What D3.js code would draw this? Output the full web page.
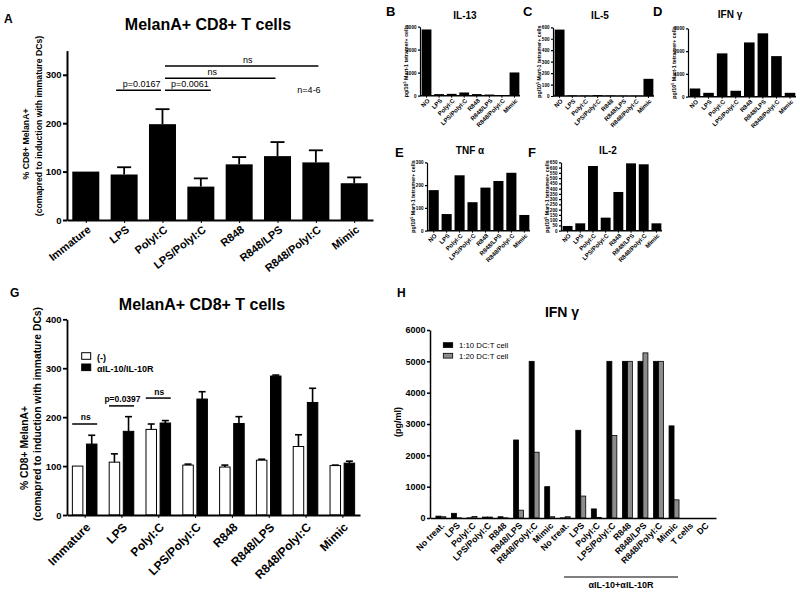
<!DOCTYPE html>
<html><head><meta charset="utf-8">
<script src="https://cdn.jsdelivr.net/npm/d3@7"></script>
<style>body{margin:0;background:#fff}svg{display:block}</style>
</head><body><svg id="c" width="800" height="594"></svg>
<script>
// ---------------- DATA ----------------
const aCats = ["Immature","LPS","PolyI:C","LPS/PolyI:C","R848","R848/LPS","R848/PolyI:C","Mimic"];
const aMean = [100,94,198,69,115,132,119,76];
const aErr  = [0,15,31,17,15,29,25,12];
const aTicks = [0,100,200,300];
const aSigFrom = ["LPS","PolyI:C","PolyI:C","PolyI:C"];
const aSigTo   = ["PolyI:C","LPS/PolyI:C","R848/LPS","R848/PolyI:C"];
const aSigVal  = [268,268,293,318];
const aSigText = ["p=0.0167","p=0.0061","ns","ns"];

const smallCats = ["NO","LPS","PolyI:C","LPS/PolyI:C","R848","R848/LPS","R848/PolyI:C","Mimic"];
const il13 = [2880,70,80,140,70,50,30,1010];
const il5  = [580,5,3,8,4,2,2,150];
const ifng = [360,170,1900,260,2380,2780,1780,170];
const tnfa = [178,73,243,125,189,218,254,69];
const il2  = [45,70,615,124,368,640,631,70];
const il13Ticks = [0,1000,2000,3000];
const il5Ticks  = [0,100,200,300,400,500,600];
const ifngTicks = [0,1000,2000,3000];
const tnfaTicks = [0,100,200,300];
const il2Ticks  = [0,50,100,150,200,250,300,350,400,450,500,550,600,650];

const gCats = aCats;
const gNone    = [100,108,175,102,98,112,140,101];
const gNoneErr = [0,17,11,2,4,2,24,1];
const gAnti    = [145,171,188,237,187,284,230,106];
const gAntiErr = [18,30,5,15,14,2,29,4];
const gTicks = [0,100,200,300,400];
const gSigCat  = ["Immature","LPS","PolyI:C"];
const gSigVal  = [186,223,239];
const gSigText = ["ns","p=0.0397","ns"];
const gLegend = ["(-)","\u03B1IL-10/IL-10R"];

const hCats = ["No treat.","LPS","PolyI:C","LPS/PolyI:C","R848","R848/LPS","R848/PolyI:C","Mimic",
               "No treat.","LPS","PolyI:C","LPS/PolyI:C","R848","R848/LPS","R848/PolyI:C","Mimic","T cells","DC"];
const h10 = [60,150,5,30,40,2490,5000,1000,5,2800,290,5000,5000,5000,5000,2940,0,0];
const h20 = [40,5,50,30,5,250,2100,40,40,700,20,2630,5000,5270,5000,580,0,0];
const hTicks = [0,1000,2000,3000,4000,5000,6000];
const hLegend = ["1:10 DC:T cell","1:20 DC:T cell"];

// ---------------- DRAWING ----------------
const FONT = '"Liberation Sans", Arial, Helvetica, sans-serif';
const svg = d3.select("#c");

function text(x,y,s,fs,opt={}){
  const t = svg.append("text").attr("x",x).attr("y",y).text(s)
    .attr("font-family",FONT).attr("font-size",fs)
    .attr("font-weight",opt.weight||"bold").attr("fill","#000")
    .attr("text-anchor",opt.anchor||"start");
  if(opt.rotate!==undefined) t.attr("transform",`rotate(${opt.rotate},${x},${y})`);
  return t;
}
function yAxis(y,x0,ticks,fs,tsize,sw){
  const g = svg.append("g").attr("transform",`translate(${x0},0)`)
    .call(d3.axisLeft(y).tickValues(ticks).tickSize(tsize).tickSizeOuter(0).tickPadding(1.5).tickFormat(d3.format("d")));
  g.select(".domain").attr("stroke","#000").attr("stroke-width",sw);
  g.selectAll(".tick line").attr("stroke","#000").attr("stroke-width",sw);
  g.selectAll(".tick text").attr("font-family",FONT).attr("font-size",fs).attr("font-weight","bold").attr("fill","#000");
  return g;
}
function xAxis(x,y0,fmt,fs,tsize,sw,dx,dy,rot){
  const g = svg.append("g").attr("transform",`translate(0,${y0})`)
    .call(d3.axisBottom(x).tickSize(tsize).tickSizeOuter(0).tickFormat(fmt));
  g.select(".domain").attr("stroke","#000").attr("stroke-width",sw);
  g.selectAll(".tick line").attr("stroke","#000").attr("stroke-width",Math.min(sw,1));
  g.selectAll(".tick text").attr("font-family",FONT).attr("font-size",fs).attr("font-weight","bold").attr("fill","#000")
    .attr("x",0).attr("y",0).attr("dy","0.35em").attr("text-anchor","end")
    .attr("transform",`translate(${dx},${dy}) rotate(${rot})`);
  return g;
}

// ===== Panel A =====
{
  const y = d3.scaleLinear().domain([0,350]).range([220,50.6]);
  const x = d3.scalePoint().domain(aCats).range([67,373]).padding(0.49);
  const bw = 27;
  svg.append("g").selectAll("rect").data(aCats).join("rect")
    .attr("x",c=>x(c)-bw/2).attr("width",bw)
    .attr("y",(c,i)=>y(aMean[i])).attr("height",(c,i)=>220-y(aMean[i])).attr("fill","#000");
  const eg = svg.append("g").attr("stroke","#000").attr("stroke-width",1.8);
  aCats.forEach((c,i)=>{ if(!aErr[i]) return;
    eg.append("line").attr("x1",x(c)).attr("x2",x(c)).attr("y1",y(aMean[i])).attr("y2",y(aMean[i]+aErr[i]));
    eg.append("line").attr("x1",x(c)-7).attr("x2",x(c)+7).attr("y1",y(aMean[i]+aErr[i])).attr("y2",y(aMean[i]+aErr[i]));
  });
  yAxis(y,67,aTicks,9.5,4,2);
  xAxis(x,220,d=>d,11,3,2,3,8,-38);
  const sdx=[[-8,-1.5],[2.5,10],[2.5,-2],[2.5,2.5]], tdx=[3,2,-8,6];
  aSigText.forEach((s,i)=>{
    const x1=x(aSigFrom[i])+sdx[i][0], x2=x(aSigTo[i])+sdx[i][1], yy=y(aSigVal[i]);
    svg.append("line").attr("x1",x1).attr("x2",x2).attr("y1",yy).attr("y2",yy).attr("stroke","#000").attr("stroke-width",1.5);
    text((x1+x2)/2+tdx[i],yy-3,s,9,{weight:"normal",anchor:"middle"});
  });
  text(309,93,"n=4-6",9,{weight:"normal",anchor:"middle"});
  text(208,30,"MelanA+ CD8+ T cells",16,{anchor:"middle"});
  text(4,23,"A",12);
  text(29,144,"% CD8+ MelanA+",8.7,{anchor:"middle",rotate:-90});
  text(41.5,126,"(comapred to induction with immature DCs)",8.7,{anchor:"middle",rotate:-90});
}

// ===== Small panels B-F =====
function small(vals,ticks,max,x0,x1,y0,yTop,title,tx,ty,letter,lx,ly){
  const y = d3.scaleLinear().domain([0,max]).range([y0,yTop]);
  const x = d3.scaleBand().domain(smallCats).range([x0+1,x1]).paddingInner(0.22).paddingOuter(0.05);
  svg.append("g").selectAll("rect").data(smallCats).join("rect")
    .attr("x",c=>x(c)).attr("width",x.bandwidth())
    .attr("y",(c,i)=>y(vals[i])).attr("height",(c,i)=>y0-y(vals[i])).attr("fill","#000");
  yAxis(y,x0,ticks,4.6,2,1.2);
  const xa = svg.append("g").attr("transform",`translate(0,${y0})`)
    .call(d3.axisBottom(x).tickSize(2).tickSizeOuter(0));
  xa.select(".domain").attr("stroke","#000").attr("stroke-width",1.5).attr("d",`M${x0},0H${x1}`);
  xa.selectAll(".tick line").attr("stroke","#000");
  xa.selectAll(".tick text").attr("font-family",FONT).attr("font-size",6.1).attr("font-weight","bold").attr("fill","#000")
    .attr("x",0).attr("y",0).attr("dy","0.35em").attr("text-anchor","end")
    .attr("transform","translate(2,4) rotate(-45)");
  text(tx,ty,title,10,{anchor:"middle"});
  text(lx,ly,letter,13);
  const yl = text(x0-12,(y0+yTop)/2,"",5.3,{anchor:"middle",rotate:-90});
  yl.append("tspan").text("pg/10");
  yl.append("tspan").text("5").attr("font-size",3.7).attr("dy",-2);
  yl.append("tspan").text(" Mart-1 tetramer+ cells").attr("dy",2);
}
small(il13,il13Ticks,3000,420,520,95.7,26.7,"IL-13",465,18.5,"B",386,15.5);
small(il5,il5Ticks,600,553,654,96,27.3,"IL-5",600,18.5,"C",523,15.5);
small(ifng,ifngTicks,3000,688,796,96.7,28.3,"IFN \u03B3",730,18,"D",653,15.5);
small(tnfa,tnfaTicks,300,427,530,230.7,162.3,"TNF \u03B1",470,154,"E",395,156.7);
small(il2,il2Ticks,650,561,662,230.7,162.3,"IL-2",608,154,"F",528,156.7);

// ===== Panel G =====
{
  const y = d3.scaleLinear().domain([0,400]).range([515,319.3]);
  const x = d3.scalePoint().domain(gCats).range([67,360]).padding(0.48);
  const bw = 10.5, gap = 1.8;
  const bars = svg.append("g").attr("stroke","#000").attr("stroke-width",1);
  gCats.forEach((c,i)=>{
    bars.append("rect").attr("x",x(c)-gap-bw).attr("width",bw).attr("y",y(gNone[i])).attr("height",515-y(gNone[i])).attr("fill","#fff");
    bars.append("rect").attr("x",x(c)+gap).attr("width",bw).attr("y",y(gAnti[i])).attr("height",515-y(gAnti[i])).attr("fill","#000");
  });
  const eg = svg.append("g").attr("stroke","#000").attr("stroke-width",1.6);
  function err(cx,v,e){ if(!e) return;
    eg.append("line").attr("x1",cx).attr("x2",cx).attr("y1",y(v)).attr("y2",y(v+e));
    eg.append("line").attr("x1",cx-3.5).attr("x2",cx+3.5).attr("y1",y(v+e)).attr("y2",y(v+e));
  }
  gCats.forEach((c,i)=>{ err(x(c)-gap-bw/2,gNone[i],gNoneErr[i]); err(x(c)+gap+bw/2,gAnti[i],gAntiErr[i]); });
  yAxis(y,67,gTicks,9.5,4,1.8);
  xAxis(x,515,d=>d,12,3,1.8,3,10,-45);
  gSigText.forEach((s,i)=>{
    const cx=x(gSigCat[i]), yy=y(gSigVal[i]);
    svg.append("line").attr("x1",cx-12.5).attr("x2",cx+12.5).attr("y1",yy).attr("y2",yy).attr("stroke","#000").attr("stroke-width",1.5);
    text(cx+1,yy-3.5,s,8.5,{anchor:"middle"});
  });
  svg.append("rect").attr("x",81.7).attr("y",352.7).attr("width",9).attr("height",6.6).attr("fill","#fff").attr("stroke","#000");
  svg.append("rect").attr("x",81.7).attr("y",364).attr("width",9).attr("height",6.6).attr("fill","#000").attr("stroke","#000");
  text(97,360.5,gLegend[0],9);
  text(97,371.5,gLegend[1],9);
  text(202,310,"MelanA+ CD8+ T cells",16,{anchor:"middle"});
  text(10,297,"G",12);
  text(27.5,448,"% CD8+ MelanA+",10.3,{anchor:"middle",rotate:-90});
  text(41,414,"(comapred to induction with immature DCs)",10.3,{anchor:"middle",rotate:-90});
}

// ===== Panel H =====
{
  const y = d3.scaleLinear().domain([0,6000]).range([518,330]);
  const x = d3.scaleBand().domain(d3.range(hCats.length)).range([430,716]).paddingInner(0.36).paddingOuter(0.38);
  const hb = x.bandwidth()/2;
  const bars = svg.append("g").attr("stroke","#000").attr("stroke-width",0.8);
  hCats.forEach((c,i)=>{
    if(h10[i]>0) bars.append("rect").attr("x",x(i)).attr("width",hb).attr("y",y(h10[i])).attr("height",518-y(h10[i])).attr("fill","#000");
    if(h20[i]>0) bars.append("rect").attr("x",x(i)+hb).attr("width",hb).attr("y",y(h20[i])).attr("height",518-y(h20[i])).attr("fill","#8c8c8c");
  });
  yAxis(y,430,hTicks,9,3,1.5);
  xAxis(x,518,i=>hCats[i],8.8,0,1.5,2,6,-45);
  svg.append("rect").attr("x",443.3).attr("y",342.7).attr("width",9.4).attr("height",4.8).attr("fill","#000").attr("stroke","#000").attr("stroke-width",0.8);
  svg.append("rect").attr("x",443.3).attr("y",353.3).attr("width",9.4).attr("height",4.8).attr("fill","#8c8c8c").attr("stroke","#000").attr("stroke-width",0.8);
  text(459,348.2,hLegend[0],7.8,{weight:"normal"});
  text(459,358.8,hLegend[1],7.8,{weight:"normal"});
  svg.append("line").attr("x1",564).attr("x2",678).attr("y1",577).attr("y2",577).attr("stroke","#000").attr("stroke-width",1.2);
  text(621,588,"\u03B1IL-10+\u03B1IL-10R",9,{anchor:"middle"});
  text(562,317,"IFN \u03B3",14,{anchor:"middle"});
  text(397,297,"H",12);
  text(401,422,"(pg/ml)",9,{anchor:"middle",rotate:-90});
}
</script></body></html>
